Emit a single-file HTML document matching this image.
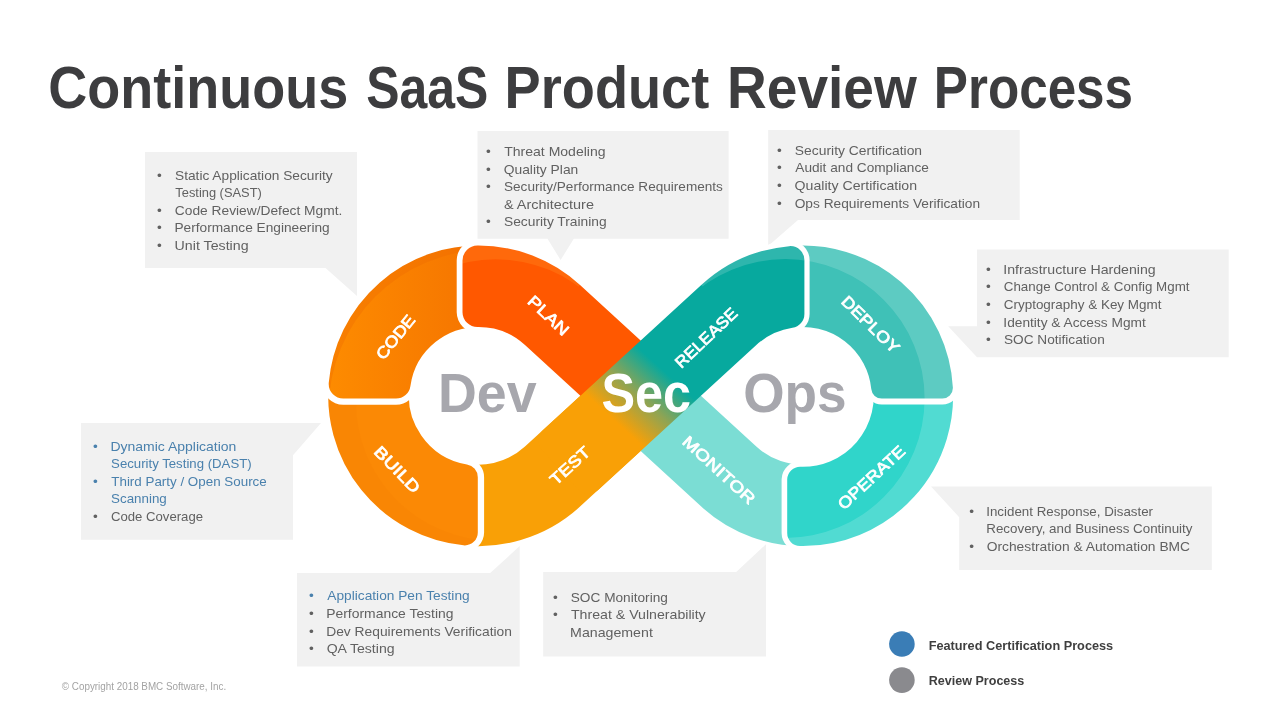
<!DOCTYPE html>
<html lang="en"><head><meta charset="utf-8"><title>Continuous SaaS Product Review Process</title>
<style>
html,body{margin:0;padding:0;background:#fff;}
body{width:1280px;height:720px;overflow:hidden;position:relative;font-family:"Liberation Sans",sans-serif;}
svg{position:absolute;left:0;top:0;display:block;}
text{font-family:"Liberation Sans",sans-serif;}
.t{font-weight:bold;fill:#3d3d3f;font-size:59px;}
.b{fill:#616161;font-size:13.6px;}
.bl{fill:#4a81ad;}
.lab{fill:#fff;font-size:16px;text-anchor:middle;stroke:#fff;stroke-width:0.75px;stroke-linejoin:round;}
.big{font-size:55.5px;font-weight:bold;}
.lg{font-weight:bold;fill:#3f3f3f;font-size:13.4px;}
.cp{fill:#a3a3a3;font-size:10px;}
.box{fill:#f1f1f1;}
</style></head><body>
<svg width="1280" height="720" viewBox="0 0 1280 720">
<defs>
<linearGradient id="gBand" gradientUnits="userSpaceOnUse" x1="616.33" y1="422.34" x2="663.62" y2="370.73"><stop offset="0" stop-color="#F9A006"/><stop offset="0.5" stop-color="#8FA453"/><stop offset="1" stop-color="#07A99E"/></linearGradient>
<linearGradient id="gCode" gradientUnits="userSpaceOnUse" x1="330" y1="0" x2="470" y2="0"><stop offset="0" stop-color="#FD8B00"/><stop offset="1" stop-color="#F67600"/></linearGradient>
<mask id="m_code" maskUnits="userSpaceOnUse" x="0" y="0" width="1280" height="720"><path d="M343.2 384.1 A135.8 135.8 0 0 1 485 260.16 L485 312.75 A83.3 83.3 0 0 0 396.03 384.1 Z" fill="#fff" stroke="#fff" stroke-width="29" stroke-linejoin="round"/></mask>
<mask id="m_build" maskUnits="userSpaceOnUse" x="0" y="0" width="1280" height="720"><path d="M464.8 532.41 A137.3 137.3 0 0 1 342.11 380 L397.43 380 A82.6 82.6 0 0 0 464.8 477.26 Z" fill="#fff" stroke="#fff" stroke-width="26" stroke-linejoin="round"/></mask>
<mask id="m_plan" maskUnits="userSpaceOnUse" x="0" y="0" width="1280" height="720"><path d="M477.5 260.5 A135.3 135.3 0 0 1 569.91 296.05 L665.42 383.57 L630.63 421.54 L535.12 334.02 A83.8 83.8 0 0 0 477.5 312.01 Z" fill="#fff" stroke="#fff" stroke-width="30" stroke-linejoin="round"/></mask>
<mask id="m_test" maskUnits="userSpaceOnUse" x="0" y="0" width="1280" height="720"><path d="M455 532.09 A138.3 138.3 0 0 0 571.94 497.76 L660.07 417 L621.23 374.6 L533.09 455.37 A80.8 80.8 0 0 1 455 473.11 Z" fill="#fff" stroke="#fff" stroke-width="24" stroke-linejoin="round"/></mask>
<mask id="m_release" maskUnits="userSpaceOnUse" x="0" y="0" width="1280" height="720"><path d="M790.4 260.07 A136.3 136.3 0 0 0 710.71 295.31 L552.54 440.26 L588.68 479.7 L746.86 334.75 A82.8 82.8 0 0 1 790.4 313.93 Z" fill="#fff" stroke="#fff" stroke-width="28" stroke-linejoin="round"/></mask>
<mask id="m_deploy" maskUnits="userSpaceOnUse" x="0" y="0" width="1280" height="720"><path d="M942.39 388.1 A139.8 139.8 0 0 0 790 256.59 L790 317.54 A79.3 79.3 0 0 1 881.73 388.1 Z" fill="#fff" stroke="#fff" stroke-width="21" stroke-linejoin="round"/></mask>
<mask id="m_operate" maskUnits="userSpaceOnUse" x="0" y="0" width="1280" height="720"><path d="M800.2 533.08 A137.3 137.3 0 0 0 939.19 380 L885.3 380 A84 84 0 0 1 800.2 479.76 Z" fill="#fff" stroke="#fff" stroke-width="26" stroke-linejoin="round"/></mask>
<mask id="m_monitor" maskUnits="userSpaceOnUse" x="0" y="0" width="1280" height="720"><path d="M810 533.91 A138.3 138.3 0 0 1 709.36 497.76 L613.85 410.24 L652.7 367.85 L748.21 455.37 A80.8 80.8 0 0 0 810 476.28 Z" fill="#fff" stroke="#fff" stroke-width="24" stroke-linejoin="round"/></mask>
<clipPath id="cRingL"><circle cx="478.5" cy="395.8" r="153.3"/></clipPath>
<clipPath id="cRingR"><circle cx="802.8" cy="395.8" r="153.3"/></clipPath>
<clipPath id="cRimRel"><path d="M802.8 395.8 L600.12 174.62 L600.12 -100 L902.8 -100 L902.8 395.8Z" clip-path="url(#cRingR)"/></clipPath>
<clipPath id="cRimPlan"><path d="M478.5 395.8 L681.18 174.62 L681.18 -100 L378.5 -100 L378.5 395.8Z" clip-path="url(#cRingL)"/></clipPath>
</defs>
<polygon class="box" points="145,152 357,152 357,296 325.5,268 145,268"/>
<polygon class="box" points="477.5,131 728.6,131 728.6,238.8 573.8,238.8 560.6,260 547.5,238.8 477.5,238.8"/>
<polygon class="box" points="768.2,130 1019.7,130 1019.7,220 798,220 768.2,246"/>
<polygon class="box" points="977,249.4 1228.7,249.4 1228.7,357.2 977,357.2 948.2,326.2 977,326.2"/>
<polygon class="box" points="81,423 321,423 293,455.3 293,539.7 81,539.7"/>
<polygon class="box" points="297,573 490.2,573 519.7,546 519.7,666.5 297,666.5"/>
<polygon class="box" points="543.2,572 736.2,572 766,544.2 766,656.5 543.2,656.5"/>
<polygon class="box" points="931,486.5 1211.8,486.5 1211.8,570 959.2,570 959.2,517.2"/>
<g mask="url(#m_test)">
<rect x="300" y="220" width="680" height="350" fill="url(#gBand)"/>
</g>
<path d="M464.8 532.41 A137.3 137.3 0 0 1 450.8 530.28 L450.8 473.62 A82.6 82.6 0 0 0 464.8 477.26 Z" fill="#fff" stroke="#fff" stroke-width="38.6" stroke-linejoin="round"/>
<g mask="url(#m_build)">
<rect x="300" y="220" width="680" height="350" fill="#FB8905"/>
<path d="M300 220H980V570H300ZM356 402 a138.5 138.5 0 1 0 277 0 a138.5 138.5 0 1 0 -277 0Z" fill="#F07800" fill-opacity="0.15" fill-rule="evenodd" clip-path="url(#cRingL)"/>
</g>
<path d="M343.2 384.1 A135.8 135.8 0 0 1 345.15 370.1 L399.26 370.1 A83.3 83.3 0 0 0 396.03 384.1 Z" fill="#fff" stroke="#fff" stroke-width="41.4" stroke-linejoin="round"/>
<g mask="url(#m_code)">
<rect x="300" y="220" width="680" height="350" fill="url(#gCode)"/>
<path d="M300 220H980V570H300ZM328.6 409.6 a159.8 159.8 0 1 0 319.6 0 a159.8 159.8 0 1 0 -319.6 0Z" fill="#EE6A00" fill-opacity="0.35" fill-rule="evenodd" clip-path="url(#cRingL)"/>
</g>
<path d="M477.5 260.5 A135.3 135.3 0 0 1 491.5 261.13 L491.5 313.01 A83.8 83.8 0 0 0 477.5 312.01 Z" fill="#fff" stroke="#fff" stroke-width="41.6" stroke-linejoin="round"/>
<g mask="url(#m_plan)">
<rect x="300" y="220" width="680" height="350" fill="#FF5800"/>
<path d="M300 220H980V570H300ZM356.4 398.5 a139.3 139.3 0 1 0 278.6 0 a139.3 139.3 0 1 0 -278.6 0Z" fill="#FF8A20" fill-opacity="0.35" fill-rule="evenodd" clip-path="url(#cRimPlan)"/>
</g>
<g mask="url(#m_monitor)">
<rect x="300" y="220" width="680" height="350" fill="#7BDDD4"/>
</g>
<path d="M800.2 533.08 A137.3 137.3 0 0 0 814.2 532.63 L814.2 479.02 A84 84 0 0 1 800.2 479.76 Z" fill="#fff" stroke="#fff" stroke-width="37.2" stroke-linejoin="round"/>
<g mask="url(#m_operate)">
<rect x="300" y="220" width="680" height="350" fill="#30D5CA"/>
<path d="M300 220H980V570H300ZM646 398.5 a139.3 139.3 0 1 0 278.6 0 a139.3 139.3 0 1 0 -278.6 0Z" fill="#ffffff" fill-opacity="0.16" fill-rule="evenodd" clip-path="url(#cRingR)"/>
</g>
<path d="M942.39 388.1 A139.8 139.8 0 0 0 940.91 374.1 L879.07 374.1 A79.3 79.3 0 0 1 881.73 388.1 Z" fill="#fff" stroke="#fff" stroke-width="33" stroke-linejoin="round"/>
<g mask="url(#m_deploy)">
<rect x="300" y="220" width="680" height="350" fill="#3FC1B7"/>
<path d="M300 220H980V570H300ZM646 398.5 a139.3 139.3 0 1 0 278.6 0 a139.3 139.3 0 1 0 -278.6 0Z" fill="#ffffff" fill-opacity="0.16" fill-rule="evenodd" clip-path="url(#cRingR)"/>
</g>
<path d="M790.4 260.07 A136.3 136.3 0 0 0 776.4 262.08 L776.4 317.32 A82.8 82.8 0 0 1 790.4 313.93 Z" fill="#fff" stroke="#fff" stroke-width="38.4" stroke-linejoin="round"/>
<g mask="url(#m_release)">
<rect x="300" y="220" width="680" height="350" fill="url(#gBand)"/>
<path d="M300 220H980V570H300ZM646 398.5 a139.3 139.3 0 1 0 278.6 0 a139.3 139.3 0 1 0 -278.6 0Z" fill="#ffffff" fill-opacity="0.16" fill-rule="evenodd" clip-path="url(#cRimRel)"/>
</g>
<text class="lab" transform="translate(395.4 337) rotate(-51)" x="0" y="5.6" textLength="52" lengthAdjust="spacingAndGlyphs">CODE</text>
<text class="lab" transform="translate(548.5 315.5) rotate(43)" x="0" y="5.6" textLength="50" lengthAdjust="spacingAndGlyphs">PLAN</text>
<text class="lab" transform="translate(397.3 469.4) rotate(46)" x="0" y="5.6" textLength="58" lengthAdjust="spacingAndGlyphs">BUILD</text>
<text class="lab" transform="translate(570 465.7) rotate(-42.5)" x="0" y="5.6" textLength="48" lengthAdjust="spacingAndGlyphs">TEST</text>
<text class="lab" transform="translate(706 337.8) rotate(-43.5)" x="0" y="5.6" textLength="79" lengthAdjust="spacingAndGlyphs">RELEASE</text>
<text class="lab" transform="translate(870.6 324.4) rotate(44.5)" x="0" y="5.6" textLength="74" lengthAdjust="spacingAndGlyphs">DEPLOY</text>
<text class="lab" transform="translate(871.4 477.4) rotate(-42.8)" x="0" y="5.6" textLength="85" lengthAdjust="spacingAndGlyphs">OPERATE</text>
<text class="lab" transform="translate(719 470) rotate(42.5)" x="0" y="5.6" textLength="92" lengthAdjust="spacingAndGlyphs">MONITOR</text>
<text class="big" x="437.94" y="411.9" textLength="98.62" lengthAdjust="spacingAndGlyphs" fill="#a7a7ad">Dev</text>
<text class="big" x="601.41" y="411.9" textLength="89.74" lengthAdjust="spacingAndGlyphs" fill="#ffffff">Sec</text>
<text class="big" x="743.24" y="411.9" textLength="103.42" lengthAdjust="spacingAndGlyphs" fill="#a7a7ad">Ops</text>
<text class="t" x="48.31" y="108" textLength="299.88" lengthAdjust="spacingAndGlyphs">Continuous</text>
<text class="t" x="366.22" y="108" textLength="122.1" lengthAdjust="spacingAndGlyphs">SaaS</text>
<text class="t" x="504.61" y="108" textLength="204.65" lengthAdjust="spacingAndGlyphs">Product</text>
<text class="t" x="727.06" y="108" textLength="189.75" lengthAdjust="spacingAndGlyphs">Review</text>
<text class="t" x="933.8" y="108" textLength="199.28" lengthAdjust="spacingAndGlyphs">Process</text>
<text class="b" x="159.5" y="180" text-anchor="middle">•</text>
<text class="b" x="175.07" y="180" textLength="157.63" lengthAdjust="spacingAndGlyphs">Static Application Security</text>
<text class="b" x="175.3" y="197.3" textLength="86.47" lengthAdjust="spacingAndGlyphs">Testing (SAST)</text>
<text class="b" x="159.5" y="214.7" text-anchor="middle">•</text>
<text class="b" x="174.85" y="214.7" textLength="167.49" lengthAdjust="spacingAndGlyphs">Code Review/Defect Mgmt.</text>
<text class="b" x="159.5" y="232.2" text-anchor="middle">•</text>
<text class="b" x="174.43" y="232.2" textLength="155.24" lengthAdjust="spacingAndGlyphs">Performance Engineering</text>
<text class="b" x="159.5" y="250" text-anchor="middle">•</text>
<text class="b" x="174.62" y="250" textLength="73.98" lengthAdjust="spacingAndGlyphs">Unit Testing</text>
<text class="b" x="488.4" y="156.1" text-anchor="middle">•</text>
<text class="b" x="504.18" y="156.1" textLength="101.41" lengthAdjust="spacingAndGlyphs">Threat Modeling</text>
<text class="b" x="488.4" y="173.6" text-anchor="middle">•</text>
<text class="b" x="503.75" y="173.6" textLength="74.52" lengthAdjust="spacingAndGlyphs">Quality Plan</text>
<text class="b" x="488.4" y="191.1" text-anchor="middle">•</text>
<text class="b" x="503.98" y="191.1" textLength="218.95" lengthAdjust="spacingAndGlyphs">Security/Performance Requirements</text>
<text class="b" x="503.95" y="208.6" textLength="90.03" lengthAdjust="spacingAndGlyphs">&amp; Architecture</text>
<text class="b" x="488.4" y="226.1" text-anchor="middle">•</text>
<text class="b" x="503.97" y="226.1" textLength="102.7" lengthAdjust="spacingAndGlyphs">Security Training</text>
<text class="b" x="779.5" y="155" text-anchor="middle">•</text>
<text class="b" x="794.87" y="155" textLength="127.21" lengthAdjust="spacingAndGlyphs">Security Certification</text>
<text class="b" x="779.5" y="172.3" text-anchor="middle">•</text>
<text class="b" x="795.3" y="172.3" textLength="133.55" lengthAdjust="spacingAndGlyphs">Audit and Compliance</text>
<text class="b" x="779.5" y="190" text-anchor="middle">•</text>
<text class="b" x="794.64" y="190" textLength="122.46" lengthAdjust="spacingAndGlyphs">Quality Certification</text>
<text class="b" x="779.5" y="207.5" text-anchor="middle">•</text>
<text class="b" x="794.66" y="207.5" textLength="185.41" lengthAdjust="spacingAndGlyphs">Ops Requirements Verification</text>
<text class="b" x="988.5" y="274" text-anchor="middle">•</text>
<text class="b" x="1003.3" y="274" textLength="152.4" lengthAdjust="spacingAndGlyphs">Infrastructure Hardening</text>
<text class="b" x="988.5" y="291.3" text-anchor="middle">•</text>
<text class="b" x="1003.77" y="291.3" textLength="185.78" lengthAdjust="spacingAndGlyphs">Change Control &amp; Config Mgmt</text>
<text class="b" x="988.5" y="309" text-anchor="middle">•</text>
<text class="b" x="1003.77" y="309" textLength="157.68" lengthAdjust="spacingAndGlyphs">Cryptography &amp; Key Mgmt</text>
<text class="b" x="988.5" y="326.7" text-anchor="middle">•</text>
<text class="b" x="1003.34" y="326.7" textLength="142.42" lengthAdjust="spacingAndGlyphs">Identity &amp; Access Mgmt</text>
<text class="b" x="988.5" y="343.8" text-anchor="middle">•</text>
<text class="b" x="1003.97" y="343.8" textLength="100.79" lengthAdjust="spacingAndGlyphs">SOC Notification</text>
<text class="b bl" x="95.3" y="450.5" text-anchor="middle">•</text>
<text class="b bl" x="110.41" y="450.5" textLength="125.97" lengthAdjust="spacingAndGlyphs">Dynamic Application</text>
<text class="b bl" x="111.09" y="468" textLength="140.59" lengthAdjust="spacingAndGlyphs">Security Testing (DAST)</text>
<text class="b bl" x="95.3" y="485.5" text-anchor="middle">•</text>
<text class="b bl" x="111.29" y="485.5" textLength="155.45" lengthAdjust="spacingAndGlyphs">Third Party / Open Source</text>
<text class="b bl" x="111.08" y="503.4" textLength="55.67" lengthAdjust="spacingAndGlyphs">Scanning</text>
<text class="b" x="95.3" y="520.7" text-anchor="middle">•</text>
<text class="b" x="110.88" y="520.7" textLength="92.15" lengthAdjust="spacingAndGlyphs">Code Coverage</text>
<text class="b bl" x="311.5" y="600.3" text-anchor="middle">•</text>
<text class="b bl" x="327.3" y="600.3" textLength="142.37" lengthAdjust="spacingAndGlyphs">Application Pen Testing</text>
<text class="b" x="311.5" y="617.8" text-anchor="middle">•</text>
<text class="b" x="326.22" y="617.8" textLength="127.26" lengthAdjust="spacingAndGlyphs">Performance Testing</text>
<text class="b" x="311.5" y="635.5" text-anchor="middle">•</text>
<text class="b" x="326.22" y="635.5" textLength="185.75" lengthAdjust="spacingAndGlyphs">Dev Requirements Verification</text>
<text class="b" x="311.5" y="653.1" text-anchor="middle">•</text>
<text class="b" x="326.65" y="653.1" textLength="67.93" lengthAdjust="spacingAndGlyphs">QA Testing</text>
<text class="b" x="555.4" y="601.7" text-anchor="middle">•</text>
<text class="b" x="570.77" y="601.7" textLength="97.09" lengthAdjust="spacingAndGlyphs">SOC Monitoring</text>
<text class="b" x="555.4" y="618.8" text-anchor="middle">•</text>
<text class="b" x="570.98" y="618.8" textLength="134.72" lengthAdjust="spacingAndGlyphs">Threat &amp; Vulnerability</text>
<text class="b" x="570.09" y="636.6" textLength="82.76" lengthAdjust="spacingAndGlyphs">Management</text>
<text class="b" x="971.6" y="516" text-anchor="middle">•</text>
<text class="b" x="986.26" y="516" textLength="166.81" lengthAdjust="spacingAndGlyphs">Incident Response, Disaster</text>
<text class="b" x="986.26" y="533" textLength="206.24" lengthAdjust="spacingAndGlyphs">Recovery, and Business Continuity</text>
<text class="b" x="971.6" y="550.6" text-anchor="middle">•</text>
<text class="b" x="986.66" y="550.6" textLength="203.42" lengthAdjust="spacingAndGlyphs">Orchestration &amp; Automation BMC</text>
<circle cx="901.9" cy="644" r="12.8" fill="#3a7db6"/>
<circle cx="901.9" cy="680.1" r="12.8" fill="#8a8a8e"/>
<text class="lg" x="928.7" y="649.9" textLength="184.51" lengthAdjust="spacingAndGlyphs">Featured Certification Process</text>
<text class="lg" x="928.72" y="685" textLength="95.59" lengthAdjust="spacingAndGlyphs">Review Process</text>
<text class="cp" x="61.85" y="690" textLength="164.31" lengthAdjust="spacingAndGlyphs">© Copyright 2018 BMC Software, Inc.</text>
</svg>
</body></html>
